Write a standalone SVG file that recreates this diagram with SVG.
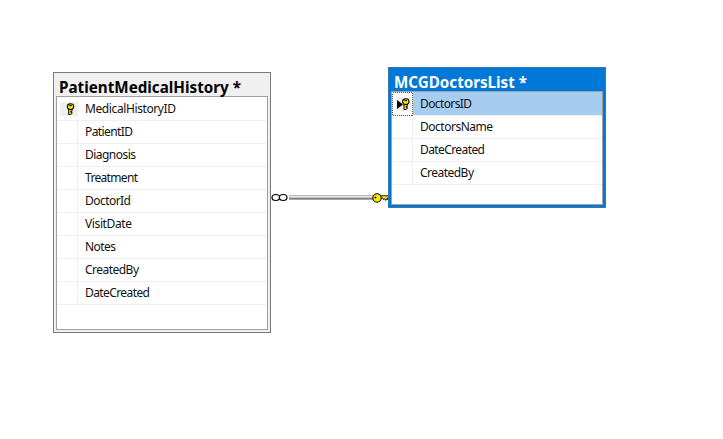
<svg xmlns="http://www.w3.org/2000/svg" width="723" height="439" viewBox="0 0 723 439">
<style>
text{font-family:"Noto Sans","Open Sans","Liberation Sans",sans-serif}
.t{font-size:16px;font-weight:700}
.r{font-size:12px;fill:#111}
.row{stroke:#f0f0f0;stroke-width:1;fill:none}
.wire{stroke-width:1}
</style>
<defs>
<g id="key"><path d="M-1.800 4v6.500h1.800l1.500-1v-1.200h-1.200v-1h1.200v-3.300z" fill="#ffe600" stroke="#000" stroke-width="1"/><ellipse cx="0" cy="2.600" rx="3.200" ry="2.900" fill="#ffe600" stroke="#000" stroke-width="1.100"/><rect x="-1.200" y="0.900" width="2.400" height="1.200" fill="#000"/></g>
</defs>
<rect width="723" height="439" fill="#fff"/>
<g id="connectors">
<path class="wire" stroke="#b8b8b8" d="M289 195.500h84"/>
<path class="wire" stroke="#e8e8e8" d="M289 196.500h84"/>
<path class="wire" stroke="#c4c4c4" d="M289 197.500h84"/>
<path class="wire" stroke="#808080" d="M289 198.500h84"/>
<path class="wire" stroke="#a8a8a8" d="M289 199.500h84"/>
<g fill="#fff" stroke="#000" stroke-width="1.200"><ellipse cx="275.800" cy="197.500" rx="3.800" ry="3"/><ellipse cx="283.200" cy="197.500" rx="3.800" ry="3"/></g>
<path d="M380 195.800h8.500v1.900h-.8v2l-1-1.100-1 1.800-1-1.800-1 1.100-1-1.600h-2.700z" fill="#ffeb00" stroke="#000" stroke-width="0.900"/>
<circle cx="377" cy="198" r="4.200" fill="#ffeb00" stroke="#000" stroke-width="1.100"/>
<circle cx="375.500" cy="197.500" r="0.900" fill="#000"/>
</g>
<g id="PatientMedicalHistory">
<rect x="53.500" y="72.500" width="217" height="260" fill="#f0f0f0" stroke="#7a7a7a" stroke-width="1"/>
<rect x="56.500" y="96.500" width="211" height="233" fill="#fff" stroke="#a0a0a0" stroke-width="1"/>
<text class="t" x="59" y="93" textLength="182" lengthAdjust="spacingAndGlyphs">PatientMedicalHistory *</text>
<rect x="60" y="102" width="17" height="14" fill="#f0f0f0"/>
<path class="row" d="M57 120.500h210M57 143.500h210M57 166.500h210M57 189.500h210M57 212.500h210M57 235.500h210M57 258.500h210M57 281.500h210M57 304.500h210M77.500 97v207.500"/>
<use href="#key" x="70.500" y="104"/>
<text class="r" x="85" y="113" textLength="91">MedicalHistoryID</text>
<text class="r" x="85" y="136" textLength="48">PatientID</text>
<text class="r" x="85" y="159" textLength="51">Diagnosis</text>
<text class="r" x="85" y="182" textLength="53">Treatment</text>
<text class="r" x="85" y="205" textLength="46">DoctorId</text>
<text class="r" x="85" y="228" textLength="47">VisitDate</text>
<text class="r" x="85" y="251" textLength="31">Notes</text>
<text class="r" x="85" y="274" textLength="54">CreatedBy</text>
<text class="r" x="85" y="297" textLength="65">DateCreated</text>
</g>
<g id="MCGDoctorsList">
<rect x="388.500" y="67.500" width="217" height="140" fill="#0078d7" stroke="#6e7a85" stroke-width="1"/>
<rect x="389.500" y="68.500" width="215" height="138" fill="none" stroke="#0078d7" stroke-width="2"/>
<rect x="391.500" y="91.500" width="211" height="113" fill="#fff" stroke="#a0a0a0" stroke-width="1"/>
<text class="t" x="394" y="88" textLength="133" lengthAdjust="spacingAndGlyphs" fill="#fff">MCGDoctorsList *</text>
<rect x="413" y="92" width="189" height="23" fill="#a6cdf0"/>
<path class="row" d="M392 115.500h210M392 138.500h210M392 161.500h210M392 184.500h210M412.500 116v68.500"/>
<rect x="392" y="92" width="20.500" height="23" fill="#fff"/>
<rect x="396" y="97" width="15" height="14" fill="#f0f0f0"/>
<rect x="392.500" y="92.500" width="20" height="23" fill="none" stroke="#555" stroke-dasharray="1 1" shape-rendering="crispEdges"/>
<path d="M397 100l6 4.500-6 4.500z" fill="#000"/>
<use href="#key" x="405.800" y="99"/>
<text class="r" x="420" y="108" textLength="52">DoctorsID</text>
<text class="r" x="420" y="131" textLength="73">DoctorsName</text>
<text class="r" x="420" y="154" textLength="65">DateCreated</text>
<text class="r" x="420" y="177" textLength="54">CreatedBy</text>
</g>
</svg>
